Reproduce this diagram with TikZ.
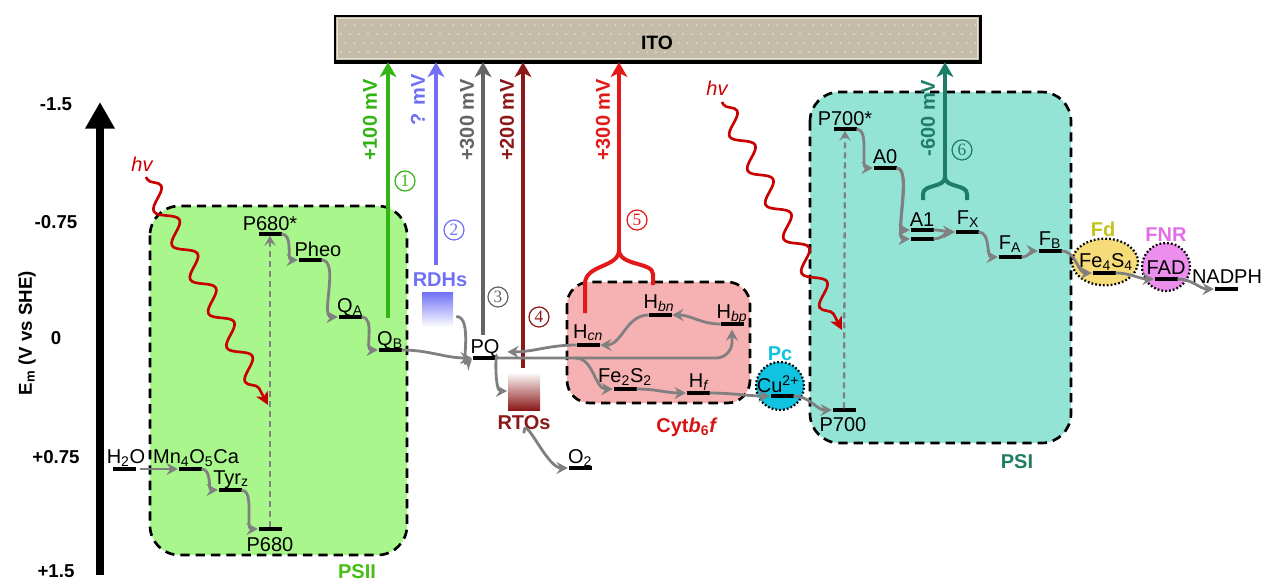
\documentclass[tikz,border=0pt]{standalone}
\usepackage{fontspec}
\setmainfont{Liberation Sans}
\newfontfamily\serfont{Liberation Serif}
\usetikzlibrary{arrows.meta,decorations.pathmorphing,shapes.geometric,calc}
\definecolor{psiicol}{RGB}{168,246,140}
\definecolor{psiilab}{RGB}{70,190,20}
\definecolor{psicol}{RGB}{148,228,214}
\definecolor{psilab}{RGB}{30,125,100}
\definecolor{cytcol}{RGB}{246,178,178}
\definecolor{cytlab}{RGB}{215,20,20}
\definecolor{cA}{RGB}{50,180,20}
\definecolor{cB}{RGB}{112,112,245}
\definecolor{cC}{RGB}{100,100,100}
\definecolor{cD}{RGB}{140,25,25}
\definecolor{cE}{RGB}{225,25,25}
\definecolor{cF}{RGB}{30,125,105}
\definecolor{arrgray}{RGB}{128,128,128}
\definecolor{hvred}{RGB}{200,0,0}
\definecolor{pccol}{RGB}{15,195,225}
\definecolor{fdcol}{RGB}{245,220,120}
\definecolor{fdlab}{RGB}{195,195,30}
\definecolor{fnrcol}{RGB}{236,142,236}
\definecolor{fnrlab}{RGB}{225,110,230}
\definecolor{itofill}{RGB}{196,188,168}
\definecolor{itodot}{RGB}{222,216,202}
\definecolor{itoedge}{RGB}{232,226,210}
\tikzset{
 every node/.style={font=\fontsize{15}{18}\selectfont, inner sep=0pt},
 lev/.style={fill=black, minimum width=17.25pt, minimum height=2.6pt, inner sep=0pt, outer sep=0pt},
 lab/.style={anchor=base},
 blab/.style={font=\bfseries\fontsize{15}{18}\selectfont},
 tick/.style={font=\bfseries\fontsize{14}{16}\selectfont},
 garr/.style={draw=arrgray, line width=2.1pt, -{Stealth[length=8.5pt,width=9pt,inset=3pt]}, shorten >=0.5pt},
 darr/.style={draw=arrgray, line width=1.7pt, dash pattern=on 4.5pt off 3pt, -{Stealth[length=7.5pt,width=8.5pt,inset=3pt]}},
 varr/.style={line width=3pt, -{Stealth[length=11pt,width=12.5pt,inset=3pt]}},
 forkline/.style={line width=3pt},
 mvlab/.style={rotate=90, font=\bfseries\fontsize{15}{18}\selectfont},
 cnum/.style={circle, draw, line width=0.9pt, minimum size=15pt, inner sep=0pt, font=\serfont\fontsize{13}{13}\selectfont},
 complexbox/.style={draw=black, line width=2pt, dash pattern=on 7pt off 4.5pt, rounded corners=22pt},
 hvw/.style={draw=hvred, line width=2pt, decorate, decoration={snake, amplitude=7pt, segment length=29pt, post length=9pt, pre length=2pt}, -{Stealth[length=9.5pt,width=9.5pt,inset=2.5pt]}},
 cof/.style={draw=black, line width=1.7pt, dash pattern=on 1.3pt off 1.6pt}
}
\begin{document}
\begin{tikzpicture}[x=0.75pt,y=-0.75pt]
\useasboundingbox (0,0) rectangle (1271,582);

% ---------- ITO electrode ----------
\fill[black] (334,15) rectangle (982,64);
\fill[itofill] (336,17) rectangle (979,60);
\draw[itoedge, line width=0.8pt] (337.5,18.5) rectangle (977.5,58.5);
\foreach \yy [count=\r] in {25,34,43,52}{
  \foreach \xx in {341,350,...,975}{
    \fill[itodot] ({\xx+mod(\r,2)*4.5},\yy) circle (0.85pt);
  }
}
\node[minimum width=484.5pt, minimum height=34.5pt] (ito) at (658,39) {};
\node[font=\bfseries\fontsize{14.5}{16}\selectfont] (itolab) at (657,43) {ITO};

% ---------- energy axis ----------
\coordinate (axbot) at (100,575);
\coordinate (axtop) at (100,102);
\draw[line width=6pt, -{Triangle[length=20pt,width=21pt]}] (axbot) -- (axtop);
\node[tick] (tk1) at (56,104) {-1.5};
\node[tick] (tk2) at (56,222) {-0.75};
\node[tick] (tk3) at (56,338) {0};
\node[tick] (tk4) at (56,457) {+0.75};
\node[tick] (tk5) at (56,571) {+1.5};
\node[rotate=90, font=\bfseries\fontsize{14}{16}\selectfont] (ylab) at (27,333) {E\textsubscript{m} (V vs SHE)};

% ---------- complexes ----------
\draw[complexbox, fill=psiicol] (150,206) rectangle (407,555);
\draw[complexbox, fill=psicol] (810,92) rectangle (1071,443);
\draw[complexbox, fill=cytcol, rounded corners=17pt] (567,282) rectangle (750,403);
\node[blab, text=psiilab] (psiilabel) at (357,572) {PSII};
\node[blab, text=psilab] (psilabel) at (1017,462) {PSI};
\node[blab, text=cytlab] (cytlabel) at (687,427) {Cyt\textit{b}\textsubscript{6}\textit{f}};

% soluble carriers
\node[circle, cof, fill=pccol, minimum size=36pt] (pcc) at (780,386) {};
\node[ellipse, cof, fill=fdcol, minimum width=49.5pt, minimum height=35pt] (fdc) at (1105,262) {};
\node[circle, cof, fill=fnrcol, minimum size=36pt] (fnrc) at (1166,267) {};
\node[blab, text=pccol] (pclab) at (780,354) {Pc};
\node[blab, text=fdlab] (fdlabel) at (1103,229) {Fd};
\node[blab, text=fnrlab] (fnrlabel) at (1166,235) {FNR};

% mediators
\node[minimum width=23.25pt, minimum height=26.25pt, top color=cB, bottom color=white, draw=none] (rdh) at (437.5,309.5) {};
\node[blab, text=cB] (rdhlab) at (440,280) {RDHs};
\node[minimum width=24pt, minimum height=28.5pt, top color=white, bottom color=cD, draw=none] (rto) at (524,391) {};
\node[blab, text=cD] (rtolab) at (524,423) {RTOs};

% ---------- energy levels (bars) ----------
\node[lev] (p680s) at (270,234) {};
\node[lev] (pheo) at (310,260) {};
\node[lev] (qa) at (350,317) {};
\node[lev] (qb) at (390,350) {};
\node[lev] (h2o) at (124,469) {};
\node[lev] (mn) at (190,469) {};
\node[lev] (tyr) at (230,490) {};
\node[lev] (p680) at (270,529) {};
\node[lev] (pq) at (484,358) {};
\node[lev] (o2) at (580,468) {};
\node[lev] (hcn) at (588,345) {};
\node[lev] (hbn) at (660,315) {};
\node[lev] (hbp) at (732,324) {};
\node[lev] (fe2) at (625,389) {};
\node[lev] (hf) at (698,393) {};
\node[lev] (cu) at (782,396) {};
\node[lev] (p700) at (844,410) {};
\node[lev] (p700s) at (845,129) {};
\node[lev] (a0) at (885,168) {};
\node[lev] (a1a) at (922,230) {};
\node[lev] (a1b) at (922,239) {};
\node[lev] (fx) at (967,232) {};
\node[lev] (fa) at (1010,257) {};
\node[lev] (fb) at (1050,251) {};
\node[lev] (fe4) at (1104,273) {};
\node[lev] (fad) at (1166,279) {};
\node[lev] (nadph) at (1226,289) {};

% ---------- level labels ----------
\node[lab] (tp680s) at (270,230) {P680*};
\node[lab] (tpheo) at (318,256) {Pheo};
\node[lab] (tqa) at (350,312) {Q\textsubscript{A}};
\node[lab] (tqb) at (390,345) {Q\textsubscript{B}};
\node[lab] (th2o) at (126,463) {H\textsubscript{2}O};
\node[lab] (tmn) at (196,463) {Mn\textsubscript{4}O\textsubscript{5}Ca};
\node[lab] (ttyr) at (231,484) {Tyr\textsubscript{z}};
\node[lab] (tp680) at (270,551) {P680};
\node[lab] (tpq) at (485,353) {PQ};
\node[lab] (to2) at (580,463) {O\textsubscript{2}};
\node[lab] (thcn) at (588,338) {H\textsubscript{\textit{cn}}};
\node[lab] (thbn) at (659,308) {H\textsubscript{\textit{bn}}};
\node[lab] (thbp) at (732,318) {H\textsubscript{\textit{bp}}};
\node[lab] (tfe2) at (625,382) {Fe\textsubscript{2}S\textsubscript{2}};
\node[lab] (thf) at (699,387) {H\textsubscript{\textit{f}}};
\node[lab] (tcu) at (778,392) {Cu\textsuperscript{2+}};
\node[lab] (tp700) at (843,431) {P700};
\node[lab] (tp700s) at (845,125) {P700*};
\node[lab] (ta0) at (885,163) {A0};
\node[lab] (ta1) at (922,226) {A1};
\node[lab] (tfx) at (968,224) {F\textsubscript{X}};
\node[lab] (tfa) at (1010,249) {F\textsubscript{A}};
\node[lab] (tfb) at (1050,245) {F\textsubscript{B}};
\node[lab] (tfe4) at (1106,267) {Fe\textsubscript{4}S\textsubscript{4}};
\node[lab] (tfad) at (1166,274) {FAD};
\node[lab] (tnadph) at (1227,283) {NADPH};

% ---------- electrode arrows ----------
\coordinate (s1) at (388,318);
\coordinate (s2) at (436,265);
\coordinate (s3) at (483,335);
\coordinate (s4) at (523,368);
\coordinate (j5) at (619,250);
\coordinate (j6) at (945,177);
\coordinate (f5l) at (585,313);
\coordinate (f5r) at (653,285);
\coordinate (f6l) at (923,200);
\coordinate (f6r) at (967,200);
\draw[varr, cA] (s1) -- (s1 |- ito.south);
\draw[varr, cB] (s2) -- (s2 |- ito.south);
\draw[varr, cC] (s3) -- (s3 |- ito.south);
\draw[varr, cD] (s4) -- (s4 |- ito.south);
\draw[varr, cE] (j5) -- (j5 |- ito.south);
\draw[varr, cF] (j6) -- (j6 |- ito.south);
\draw[forkline, cE] (f5l) -- (585,284) .. controls (585,264) and (619,268) .. (j5);
\draw[forkline, cE] (f5r) -- (653,274) .. controls (653,262) and (619,266) .. (j5);
\draw[forkline, cF] (f6l) -- (923,194) .. controls (923,184) and (945,188) .. (j6);
\draw[forkline, cF] (f6r) -- (967,194) .. controls (967,184) and (945,188) .. (j6);

\node[mvlab, text=cA] (mv1) at (370,120) {+100 mV};
\node[mvlab, text=cB] (mv2) at (418,100) {? mV};
\node[mvlab, text=cC] (mv3) at (467,120) {+300 mV};
\node[mvlab, text=cD] (mv4) at (507,120) {+200 mV};
\node[mvlab, text=cE] (mv5) at (603,120) {+300 mV};
\node[mvlab, text=cF] (mv6) at (928,118) {-600 mV};

\node[cnum, draw=cA, text=cA] (n1) at (405,181) {1};
\node[cnum, draw=cB, text=cB] (n2) at (454,230) {2};
\node[cnum, draw=cC, text=cC] (n3) at (498,297) {3};
\node[cnum, draw=cD, text=cD] (n4) at (539,317) {4};
\node[cnum, draw=cE, text=cE] (n5) at (637,220) {5};
\node[cnum, draw=cF, text=cF] (n6) at (962,150) {6};

% ---------- light ----------
\node[font=\itshape\fontsize{15}{18}\selectfont, text=hvred] (hv1) at (142,164) {hv};
\node[font=\itshape\fontsize{15}{18}\selectfont, text=hvred] (hv2) at (717,88) {hv};
\coordinate (hv1s) at (146,177);
\coordinate (hv1e) at (268,405);
\coordinate (hv2s) at (722,102);
\coordinate (hv2e) at (842,330);
\draw[hvw] (hv1s) -- (hv1e);
\draw[hvw] (hv2s) -- (hv2e);

% ---------- excitation ----------
\draw[darr] (p680.north) -- (p680s.south);
\draw[darr] (p700.north) -- (p700s.south);

% ---------- electron transfer (PSII) ----------
\draw[garr, shorten <=3pt] (h2o.east) -- (mn.west);
\draw[garr] (mn.east) to[out=0,in=180] (tyr.west);
\draw[garr] (tyr.east) to[out=0,in=180,looseness=0.8] (p680.west);
\draw[garr] (p680s.east) to[out=0,in=180] (pheo.west);
\draw[garr] (pheo.east) to[out=0,in=180,looseness=0.8] (qa.west);
\draw[garr] (qa.east) to[out=0,in=180] (qb.west);
\draw[garr] (qb.east) to[out=0,in=180] (pq.west);
\draw[garr] ([shift={(3,7)}]rdh.east) to[out=0,in=-135] (pq.west);

% ---------- PQ pool / RTO / Cyt b6f ----------
\draw[garr] ([shift={(2,1)}]pq.east) to[out=100,in=180] (rto.west);
\draw[garr] ([shift={(0,3)}]rtolab.south) to[out=90,in=180] (o2.west);
\draw[garr] (hcn.west) to[out=180,in=0] ([shift={(7,4)}]tpq.east);
\draw[garr, rounded corners=12pt] (pq.east) -| ([shift={(0,3)}]hbp.south);
\coordinate (br) at (575,358);
\draw[garr] (br) to[out=0,in=180] (fe2.west);
\draw[garr] (fe2.east) to[out=0,in=180] (hf.west);
\draw[garr] (hf.east) to[out=0,in=180] (cu.west);
\draw[garr] (hbp.west) to[out=180,in=0] (hbn.east);
\draw[garr] (hbn.west) to[out=180,in=0] (hcn.east);
\draw[garr] (cu.east) to[out=0,in=180] (p700.west);

% ---------- PSI ----------
\draw[garr] (p700s.east) to[out=0,in=180,looseness=0.8] (a0.west);
\draw[garr] (a0.east) to[out=0,in=180,looseness=0.6] (a1a.west);
\draw[garr] (a0.east) to[out=0,in=180,looseness=0.6] (a1b.west);
\draw[garr] (a1a.east) to[out=0,in=180] (fx.west);
\draw[garr] (a1b.east) to[out=0,in=180] (fx.west);
\draw[garr] (fx.east) to[out=0,in=180] (fa.west);
\draw[garr] (fa.east) to[out=0,in=180] (fb.west);
\draw[garr] (fb.east) to[out=0,in=180] (fe4.west);
\draw[garr] (fe4.east) to[out=0,in=180] (fad.west);
\draw[garr] (fad.east) to[out=0,in=180] (nadph.west);
\end{tikzpicture}
\end{document}
